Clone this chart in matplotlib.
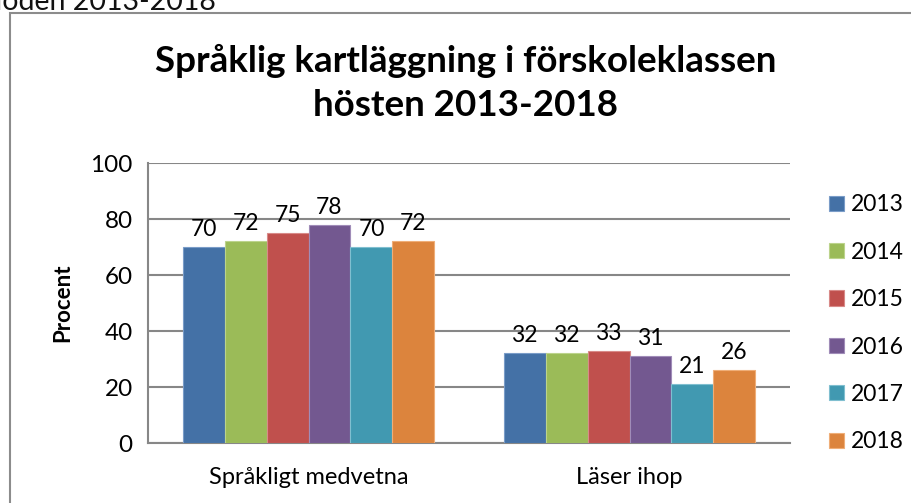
"""
Språklig kartläggning i förskoleklassen, hösten 2013-2018:
grouped bars per year for two survey categories.
"""

import matplotlib.pyplot as plt
from matplotlib.patches import Rectangle
import numpy as np

CATEGORIES = ["Språkligt medvetna", "Läser ihop"]
YEARS = ["2013", "2014", "2015", "2016", "2017", "2018"]
VALUES_2013 = [70, 32]
VALUES_2014 = [72, 32]
VALUES_2015 = [75, 33]
VALUES_2016 = [78, 31]
VALUES_2017 = [70, 21]
VALUES_2018 = [72, 26]
Y_TICKS = [0, 20, 40, 60, 80, 100]

COLORS = ["#4471A6", "#9BBB58", "#C0504D", "#735890", "#4199B1", "#DC843D"]
EDGES = ["#7A9CC8", "#BCD38C", "#D88A88", "#A08CB8", "#80BFD0", "#EFAE78"]
GRID = "#878787"

plt.rcParams["font.family"] = ["Lato", "DejaVu Sans"]


def main():
    series = [VALUES_2013, VALUES_2014, VALUES_2015, VALUES_2016,
              VALUES_2017, VALUES_2018]

    fig = plt.figure(figsize=(9.12, 5.03), dpi=100)

    # outer chart frame, cut off by the image edges
    fig.patches.append(Rectangle((10 / 912, -0.1), 1.2, 1.1 - 13 / 503,
                                 transform=fig.transFigure, fill=False,
                                 edgecolor="#8C8C8C", linewidth=1.5))
    # heading of the page above the chart, mostly cut off
    fig.text(216 / 912, 1 - 10 / 503, "perioden 2013-2018", fontsize=20.5,
             ha="right", va="baseline", color="#111111")

    ax = fig.add_axes([148 / 912, 60 / 503, 642 / 912, 280 / 503])
    x = np.arange(len(CATEGORIES))
    width = 0.785 / len(YEARS)

    for i, (year, vals) in enumerate(zip(YEARS, series)):
        pos = x - 0.785 / 2 + width * (i + 0.5)
        bars = ax.bar(pos, vals, width, color=COLORS[i], edgecolor=EDGES[i],
                      linewidth=0.8, label=year, zorder=3)
        for bar, v in zip(bars, vals):
            ax.annotate(f"{v}", (bar.get_x() + bar.get_width() / 2, v),
                        xytext=(0, 5), textcoords="offset points",
                        ha="center", va="bottom", fontsize=16.5, zorder=4)

    ax.set_xlim(-0.5, len(CATEGORIES) - 0.5)
    ax.set_ylim(0, 100)
    ax.set_yticks(Y_TICKS)
    ax.set_yticklabels([str(t) for t in Y_TICKS], fontsize=17.5)
    ax.set_xticks(x)
    ax.set_xticklabels(CATEGORIES, fontsize=17)
    ax.tick_params(axis="both", length=0)
    ax.tick_params(axis="x", pad=17)
    ax.tick_params(axis="y", pad=11)
    ax.yaxis.grid(True, color=GRID, linewidth=1.5, zorder=0)
    ax.set_axisbelow(True)
    for side in ("top", "right"):
        ax.spines[side].set_visible(False)
    for side in ("left", "bottom"):
        ax.spines[side].set_color(GRID)
        ax.spines[side].set_linewidth(1.5)
    ax.set_ylabel("Procent", fontsize=16, fontweight="bold", labelpad=12)

    fig.text(466 / 912, 1 - 83 / 503,
             "Språklig kartläggning i förskoleklassen\nhösten 2013-2018",
             ha="center", va="center", fontsize=26.5, fontweight="bold",
             linespacing=1.4)

    fig.legend(loc="upper left", bbox_to_anchor=(818 / 912, 1 - 183 / 503),
               frameon=False, fontsize=16.5, handlelength=0.65,
               handleheight=0.65, handletextpad=0.3, labelspacing=1.15,
               borderpad=0)

    fig.savefig("out.png", dpi=100)


if __name__ == "__main__":
    main()
